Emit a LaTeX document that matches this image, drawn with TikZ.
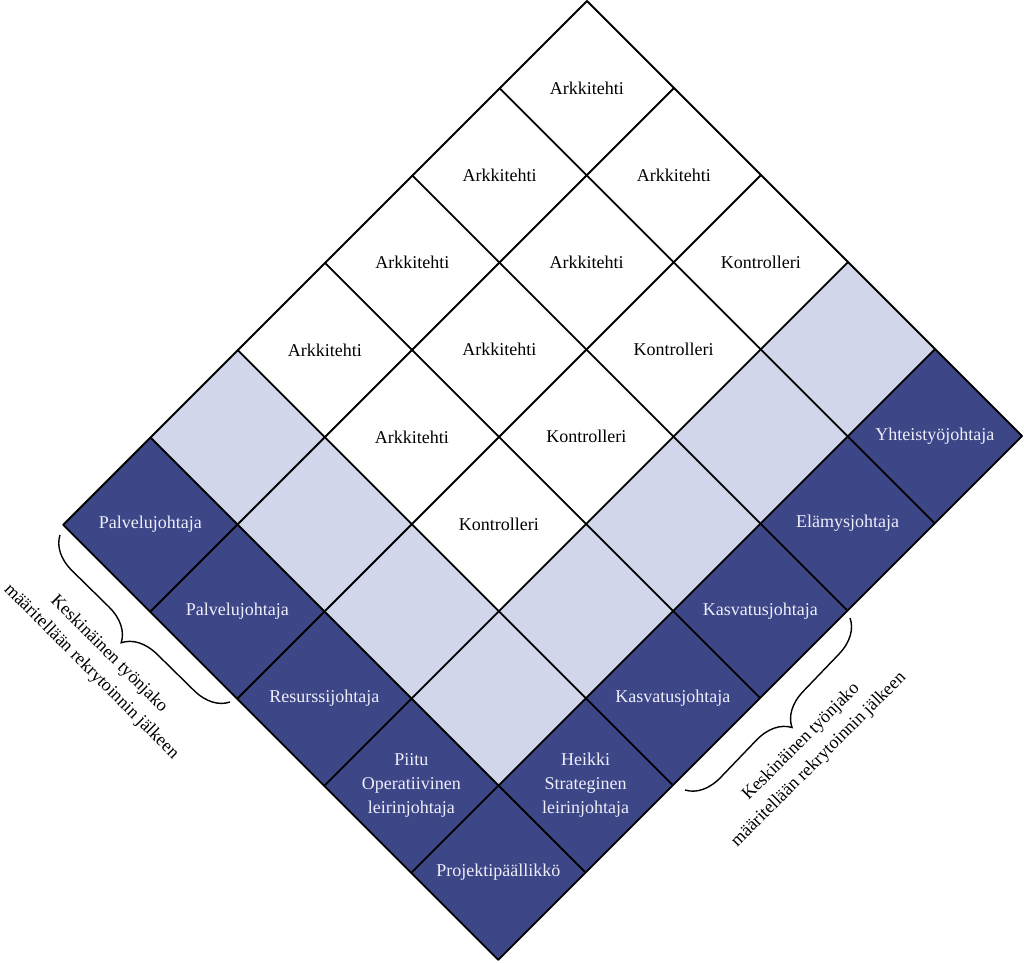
\documentclass[tikz,border=0pt]{standalone}
\usepackage{fontspec}
\setmainfont{Liberation Serif}
\usetikzlibrary{decorations.pathreplacing}
\definecolor{darkcell}{RGB}{61,71,136}
\definecolor{lightcell}{RGB}{209,214,234}
\definecolor{lighttext}{RGB}{238,238,250}
\tikzset{
  celltext/.style={font=\fontsize{18}{24}\selectfont, align=center, inner sep=0pt},
  darktext/.style={celltext, text=lighttext},
  gridline/.style={line width=1.8pt, black},
  bracestyle/.style={decorate, decoration={brace, amplitude=34pt}, line width=1.4pt},
  sidelabel/.style={font=\fontsize{18}{25}\selectfont, align=center, inner sep=0pt}
}
\begin{document}
\begin{tikzpicture}[x=1pt,y=1pt]
\useasboundingbox (0,0) rectangle (1024,-962);
\begin{scope}[shift={(587,-1)}, x={(87pt,-87pt)}, y={(-87.3pt,-87.3pt)}]
  % light cells
  \foreach \i/\j in {3/0,3/1,3/2,3/3,3/4,0/4,1/4,2/4}
    \fill[lightcell] (\i,\j) -- ++(1,0) -- ++(0,1) -- ++(-1,0) -- cycle;
  % dark cells
  \foreach \i/\j in {4/0,4/1,4/2,4/3,4/4,4/5,3/5,2/5,1/5,0/5}
    \fill[darkcell] (\i,\j) -- ++(1,0) -- ++(0,1) -- ++(-1,0) -- cycle;
  % grid
  \foreach \i in {0,...,5} \draw[gridline, line cap=round] (\i,0) -- (\i,6);
  \foreach \j in {0,...,6} \draw[gridline, line cap=round] (0,\j) -- (5,\j);
  % texts
  \node[celltext] (c00) at (0.5,0.5) {Arkkitehti};
  \node[celltext] (c10) at (1.5,0.5) {Arkkitehti};
  \node[celltext] (c01) at (0.5,1.5) {Arkkitehti};
  \node[celltext] (c20) at (2.5,0.5) {Kontrolleri};
  \node[celltext] (c11) at (1.5,1.5) {Arkkitehti};
  \node[celltext] (c02) at (0.5,2.5) {Arkkitehti};
  \node[celltext] (c21) at (2.5,1.5) {Kontrolleri};
  \node[celltext] (c12) at (1.5,2.5) {Arkkitehti};
  \node[celltext] (c03) at (0.5,3.5) {Arkkitehti};
  \node[celltext] (c22) at (2.5,2.5) {Kontrolleri};
  \node[celltext] (c13) at (1.5,3.5) {Arkkitehti};
  \node[celltext] (c23) at (2.5,3.5) {Kontrolleri};
  \node[darktext] (c40) at (4.5,0.5) {Yhteistyöjohtaja};
  \node[darktext] (c41) at (4.5,1.5) {Elämysjohtaja};
  \node[darktext] (c42) at (4.5,2.5) {Kasvatusjohtaja};
  \node[darktext] (c43) at (4.5,3.5) {Kasvatusjohtaja};
  \node[darktext] (c44) at (4.5,4.5) {Heikki\\Strateginen\\leirinjohtaja};
  \node[darktext] (c45) at (4.5,5.5) {Projektipäällikkö};
  \node[darktext] (c35) at (3.5,5.5) {Piitu\\Operatiivinen\\leirinjohtaja};
  \node[darktext] (c25) at (2.5,5.5) {Resurssijohtaja};
  \node[darktext] (c15) at (1.5,5.5) {Palvelujohtaja};
  \node[darktext] (c05) at (0.5,5.5) {Palvelujohtaja};
\end{scope}
% braces
\coordinate (lbA) at (60,-535);
\coordinate (lbB) at (230,-702);
\draw[bracestyle] (lbB) -- (lbA);
\coordinate (rbA) at (850,-618);
\coordinate (rbB) at (685,-790);
\draw[bracestyle] (rbA) -- (rbB);
% side labels
\node[sidelabel, rotate=-45] (leftlabel) at (100,-663) {Keskinäinen työnjako\\määritellään rekrytoinnin jälkeen};
\node[sidelabel, rotate=45] (rightlabel) at (810,-751) {Keskinäinen työnjako\\määritellään rekrytoinnin jälkeen};
\end{tikzpicture}
\end{document}
